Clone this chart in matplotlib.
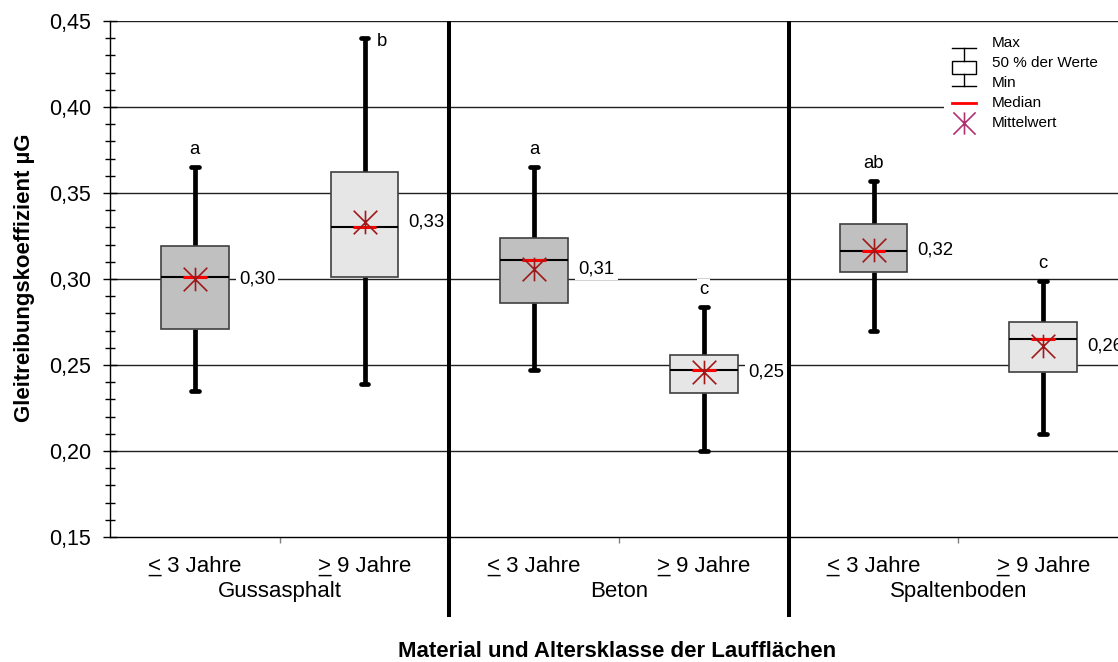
import matplotlib
matplotlib.use("Agg")
import matplotlib.pyplot as plt
import matplotlib.transforms as mtransforms
from matplotlib.path import Path
from matplotlib.patches import Rectangle
from matplotlib.ticker import MultipleLocator, FuncFormatter

plt.rcParams['font.family'] = ['Liberation Sans', 'DejaVu Sans']

# ---- data -------------------------------------------------------------
materials = ["Gussasphalt", "Beton", "Spaltenboden"]
age_classes = ["< 3 Jahre", "> 9 Jahre"]

# one entry per box: Gussasphalt (<3, >9), Beton (<3, >9), Spaltenboden (<3, >9)
whisker_max = [0.365, 0.440, 0.365, 0.284, 0.357, 0.299]
quart_upper = [0.319, 0.362, 0.324, 0.256, 0.332, 0.275]
medians     = [0.301, 0.330, 0.311, 0.247, 0.316, 0.265]
quart_lower = [0.271, 0.301, 0.286, 0.234, 0.304, 0.246]
whisker_min = [0.235, 0.239, 0.247, 0.200, 0.270, 0.210]
means       = [0.300, 0.333, 0.306, 0.246, 0.317, 0.261]
letters     = ["a", "b", "a", "c", "ab", "c"]

y_ticks = [0.15, 0.20, 0.25, 0.30, 0.35, 0.40, 0.45]

legend_rows = ["Max", "50 % der Werte", "Min", "Median", "Mittelwert"]

# ---- figure -------------------------------------------------------------
W, H = 1118, 662
fig = plt.figure(figsize=(W / 100, H / 100), dpi=100)
ax = fig.add_axes([110 / W, 1 - 537 / H, 1018 / W, 516 / H])
ax.set_xlim(-0.5, 5.5)
ax.set_ylim(y_ticks[0], y_ticks[-1])

# horizontal grid
for yv in y_ticks[1:]:
    ax.axhline(yv, color='#202020', lw=1.0, zorder=0.5)

# asterisk marker: an X with a vertical stroke
star = Path([(-1, -1), (1, 1), (-1, 1), (1, -1), (0, -1), (0, 1)],
            [Path.MOVETO, Path.LINETO, Path.MOVETO, Path.LINETO,
             Path.MOVETO, Path.LINETO])

positions = list(range(len(medians)))
stats = [dict(med=m, q1=q1, q3=q3, whislo=lo, whishi=hi, mean=mu, fliers=[])
         for m, q1, q3, lo, hi, mu in zip(medians, quart_lower, quart_upper,
                                          whisker_min, whisker_max, means)]

bp = ax.bxp(stats, positions=positions, widths=0.4, capwidths=0.045,
            patch_artist=True, showmeans=True, showfliers=False,
            boxprops=dict(edgecolor='#404040', linewidth=1.2),
            whiskerprops=dict(color='black', linewidth=3.4,
                              solid_capstyle='butt'),
            capprops=dict(color='black', linewidth=3.4,
                          solid_capstyle='round'),
            medianprops=dict(color='black', linewidth=1.5),
            meanprops=dict(marker=star, markersize=17, linestyle='none',
                           markeredgecolor='#9E1A1A', markerfacecolor='none',
                           markeredgewidth=1.2))

fills = ['#C0C0C0', '#E6E6E6'] * len(materials)
for patch, fc in zip(bp['boxes'], fills):
    patch.set_facecolor(fc)
    patch.set_zorder(2)
for w in bp['whiskers'] + bp['caps']:
    w.set_zorder(1.8)
for m in bp['medians']:
    m.set_zorder(3)
for m in bp['means']:
    m.set_zorder(5)

# short red median marks
ax.hlines(medians, [p - 0.07 for p in positions], [p + 0.07 for p in positions],
          colors='#FF0000', lw=2.2, zorder=4)

# mean values next to the boxes
for p, mu in zip(positions, means):
    ax.text(p + 0.26, mu, f"{mu:.2f}".replace('.', ','), ha='left',
            va='center', fontsize=13.3, zorder=3,
            bbox=dict(fc='white', ec='none', pad=2.2))

# significance letters above the whiskers
ytop = ax.get_ylim()[1]
for p, lab, hi in zip(positions, letters, whisker_max):
    if hi + 0.012 < ytop:
        ax.text(p, hi + 0.0075, lab, ha='center', va='baseline',
                fontsize=13.3, zorder=3,
                bbox=dict(fc='white', ec='none', pad=1.5))
    else:
        ax.text(p + 0.075, hi - 0.002, lab, ha='left', va='center',
                fontsize=13.3, zorder=3)

# axes styling
for s in ('top', 'right'):
    ax.spines[s].set_visible(False)
ax.spines['left'].set_linewidth(1.0)
ax.spines['bottom'].set_linewidth(1.0)
ax.yaxis.set_major_locator(MultipleLocator(0.05))
ax.yaxis.set_minor_locator(MultipleLocator(0.01))
ax.yaxis.set_major_formatter(FuncFormatter(lambda v, _: f"{v:.2f}".replace('.', ',')))
ax.tick_params(axis='y', which='major', direction='inout', length=10,
               width=1, pad=8.6, labelsize=15.5)
ax.tick_params(axis='y', which='minor', direction='inout', length=7.2, width=1)
ax.set_xticks([0.5, 2.5, 4.5])
ax.set_xticklabels([])
ax.tick_params(axis='x', direction='out', length=4, width=1, color='#808080')

trans = mtransforms.blended_transform_factory(ax.transData, ax.transAxes)

# group separators
for xb in (1.5, 3.5):
    ax.plot([xb, xb], [1.0, -0.155], transform=trans, color='black', lw=2.9,
            clip_on=False, zorder=6, solid_capstyle='butt')

# category labels with underlined comparison sign
for p in positions:
    t = ax.text(p, -0.0672, age_classes[p % 2], transform=trans, ha='center',
                va='baseline', fontsize=16)
    ax.annotate('_', xy=(0, 0), xycoords=t, ha='left', va='bottom',
                fontsize=16, annotation_clip=False)

for g, name in enumerate(materials):
    ax.text(2 * g + 0.5, -0.1163, name, transform=trans, ha='center',
            va='baseline', fontsize=16)

fig.text(617 / W, 1 - 657 / H, "Material und Altersklasse der Laufflächen",
         ha='center', va='baseline', fontsize=16, fontweight='bold')
fig.text(25 / W, 1 - 278 / H, "Gleitreibungskoeffizient µG", rotation=90,
         ha='center', va='center', fontsize=16, fontweight='bold')

# ---- legend panel (pixel coordinates) ----------------------------------
lax = fig.add_axes([944 / W, 1 - 140 / H, (W - 944) / W, 110 / H])
lax.set_xlim(944, W)
lax.set_ylim(140, 30)
lax.set_facecolor('white')
lax.set_xticks([])
lax.set_yticks([])
for s in lax.spines.values():
    s.set_visible(False)

lax.plot([952, 976], [48, 48], color='black', lw=1)
lax.plot([964, 964], [48, 61], color='black', lw=1)
lax.add_patch(Rectangle((952, 61), 24, 13, fc='white', ec='black', lw=1))
lax.plot([964, 964], [74, 86], color='black', lw=1)
lax.plot([952, 976], [86, 86], color='black', lw=1)
lax.plot([952, 976], [103, 103], color='#FF0000', lw=2)
lax.plot([964], [123], marker=star, markersize=16, markeredgecolor='#B03070',
         markerfacecolor='none', markeredgewidth=1.2, linestyle='none')
for yy, txt in zip([43, 63, 83, 103, 123], legend_rows):
    lax.text(992, yy, txt, ha='left', va='center', fontsize=11)

fig.savefig("out.png", dpi=100)
